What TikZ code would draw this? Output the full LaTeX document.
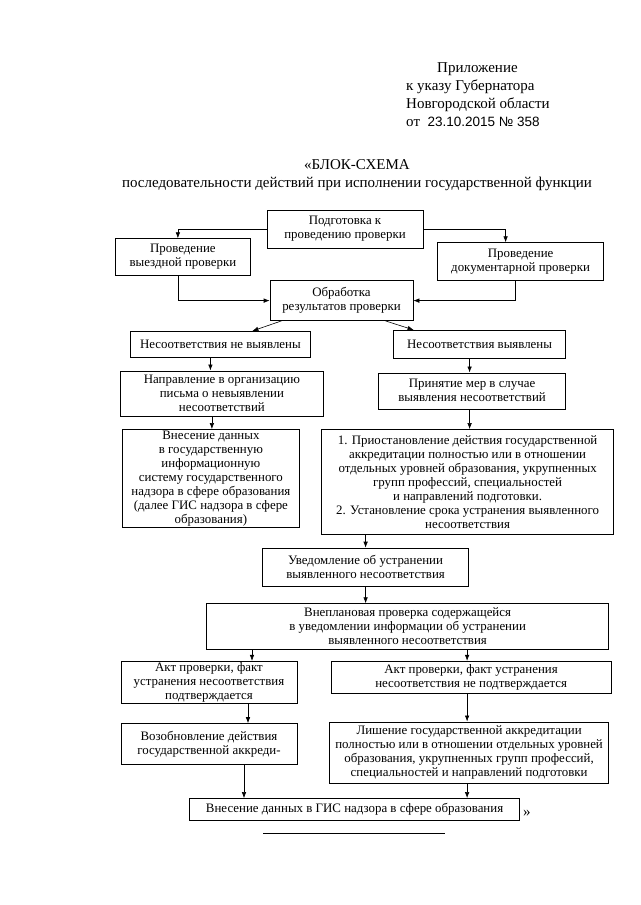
\documentclass[tikz,border=0pt]{standalone}
\usepackage{fontspec}
\setmainfont{Liberation Serif}
\newfontfamily\datefont{Liberation Sans}
\usepackage{tikz}
\usetikzlibrary{shapes,arrows,arrows.meta}
\usetikzlibrary{positioning}
\newcommand{\boxfont}{\fontsize{12.9}{14}\selectfont}
\newcommand{\headfont}{\fontsize{15}{18}\selectfont}
\tikzstyle{block} = [rectangle, draw, line width=0.6pt, align=center,
    inner xsep=2pt, inner ysep=1pt, font=\boxfont]
\tikzstyle{line} = [draw, line width=0.6pt, -{Latex[length=6pt,width=4.5pt]}]
\tikzstyle{head} = [align=left, font=\headfont, inner sep=0pt]

\begin{document}
\begin{tikzpicture}[x=1pt, y=-1pt]
    \useasboundingbox (0,0) rectangle (640,905);

    % Header and title
    \node [head, anchor=north west] (appx) at (406,62)
        {\hspace*{31pt}Приложение\\к указу Губернатора\\Новгородской области\\от\ \ {\datefont\fontsize{13.5}{18}\selectfont 23.10.2015 № 358}};
    \node [head, align=center] (title) at (357,175)
        {«БЛОК-СХЕМА\\последовательности действий при исполнении государственной функции};

    % Place nodes
    \node [block, minimum width=156pt, minimum height=38pt] (podg) at (345,229)
        {Подготовка к\\проведению проверки};
    \node [block, minimum width=135pt, minimum height=37pt, below left=-10pt and 16pt of podg] (vyezd)
        {Проведение\\выездной проверки};
    \node [block, minimum width=166pt, minimum height=38pt, below right=-6pt and 14pt of podg] (dokum)
        {Проведение\\документарной проверки};
    \node [block, minimum width=143pt, minimum height=40pt, below=32pt of podg, xshift=-3.5pt] (obrab)
        {Обработка\\результатов проверки};
    \node [block, minimum width=180pt, minimum height=26pt, below left=10pt and -41pt of obrab] (nene)
        {Несоответствия не выявлены};
    \node [block, minimum width=172pt, minimum height=28pt, below right=9pt and -20pt of obrab] (nesv)
        {Несоответствия выявлены};
    \node [block, minimum width=203pt, minimum height=45pt, below=13pt of nene, xshift=1.5pt] (naprav)
        {Направление в организацию\\письма о невыявлении\\несоответствий};
    \node [block, minimum width=187pt, minimum height=36pt, below=14pt of nesv, xshift=-7.5pt] (prin)
        {Принятие мер в случае\\выявления несоответствий};
    \node [block, minimum width=177pt, minimum height=98pt, below=13pt of naprav, xshift=-11pt] (vnes)
        {Внесение данных\\в государственную\\информационную\\систему государственного\\надзора в сфере образования\\(далее ГИС надзора в сфере\\образования)};
    \node [block, minimum width=292pt, minimum height=105pt, below=20pt of prin, xshift=-4.5pt] (priost)
        {1. Приостановление действия государственной\\аккредитации полностью или в отношении\\отдельных уровней образования, укрупненных\\групп профессий, специальностей\\и направлений подготовки.\\2. Установление срока устранения выявленного\\несоответствия};
    \node [block, minimum width=206pt, minimum height=38pt, below=13pt of priost, xshift=-102pt] (uved)
        {Уведомление об устранении\\выявленного несоответствия};
    \node [block, minimum width=402pt, minimum height=46pt, below=17pt of uved, xshift=42pt] (vnepl)
        {Внеплановая проверка содержащейся\\в уведомлении информации об устранении\\выявленного несоответствия};
    \node [block, minimum width=176pt, minimum height=40pt, below left=11pt and -91pt of vnepl] (aktok)
        {Акт проверки, факт\\устранения несоответствия\\подтверждается};
    \node [block, minimum width=280pt, minimum height=32pt, below=11pt of vnepl, xshift=63.5pt] (aktno)
        {Акт проверки, факт устранения\\несоответствия не подтверждается};
    \node [block, minimum width=176pt, minimum height=41pt, below=20pt of aktok] (vozob)
        {Возобновление действия\\государственной аккреди-};
    \node [block, minimum width=279pt, minimum height=61pt, below=28pt of aktno, xshift=-2pt] (lish)
        {Лишение государственной аккредитации\\полностью или в отношении отдельных уровней\\образования, укрупненных групп профессий,\\специальностей и направлений подготовки};
    \node [block, minimum width=330pt, minimum height=22pt, below=15pt of lish, xshift=-114.5pt] (gis)
        {Внесение данных в ГИС надзора в сфере образования};
    \node [font=\headfont, inner sep=0pt, right=3pt of gis.east, yshift=-4pt] (quote) {»};

    % Draw edges
    \path [line] (podg.west) -| ([xshift=-5pt]vyezd.north);
    \path [line] (podg.east) -| ([xshift=-15pt]dokum.north);
    \path [line] ([xshift=-5pt]vyezd.south) |- (obrab.west);
    \path [line] ([xshift=-5pt]dokum.south) |- (obrab.east);
    \path [line] ([xshift=-60pt]obrab.south) -- ([xshift=32pt]nene.north);
    \path [line] ([xshift=44pt]obrab.south) -- ([xshift=-66pt]nesv.north);
    \path [line] ([xshift=-10pt]nene.south) -- ([xshift=-10pt]nene.south |- naprav.north);
    \path [line] ([xshift=-10pt]nesv.south) -- ([xshift=-10pt]nesv.south |- prin.north);
    \path [line] ([xshift=-10pt]naprav.south) -- ([xshift=-10pt]naprav.south |- vnes.north);
    \path [line] ([xshift=-2.5pt]prin.south) -- ([xshift=-2.5pt]prin.south |- priost.north);
    \path [line] (uved.north |- priost.south) -- (uved.north);
    \path [line] (uved.south) -- (uved.south |- vnepl.north);
    \path [line] ([xshift=43pt]aktok.north |- vnepl.south) -- ([xshift=43pt]aktok.north);
    \path [line] ([xshift=-4pt]aktno.north |- vnepl.south) -- ([xshift=-4pt]aktno.north);
    \path [line] ([xshift=39pt]aktok.south) -- ([xshift=39pt]aktok.south |- vozob.north);
    \path [line] ([xshift=-4pt]aktno.south) -- ([xshift=-4pt]aktno.south |- lish.north);
    \path [line] ([xshift=35pt]vozob.south) -- ([xshift=35pt]vozob.south |- gis.north);
    \path [line] ([xshift=-2pt]lish.south) -- ([xshift=-2pt]lish.south |- gis.north);

    % Closing rule
    \draw [line width=0.6pt] (263,833) -- (445,833);
\end{tikzpicture}
\end{document}
